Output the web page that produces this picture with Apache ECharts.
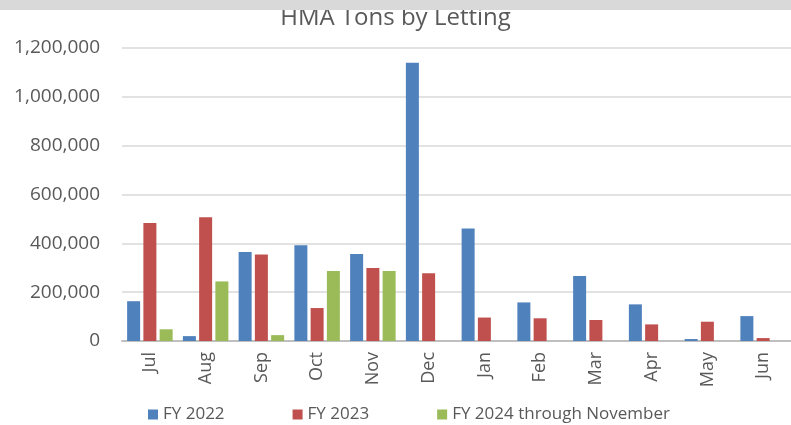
<!DOCTYPE html>
<html lang="en">
  <head>
    <meta charset="UTF-8" />
    <title>HMA Tons by Letting</title>
    <style>
      html, body { margin: 0; padding: 0; background: #fff; }
      #main { width: 791px; height: 425px; }
    </style>
  </head>
  <body>
    <div id="main"></div>
    <script src="https://cdn.jsdelivr.net/npm/echarts@6/dist/echarts.min.js"></script>
    <script>
      // months of the fiscal year (Jul - Jun)
      const months = ["Jul", "Aug", "Sep", "Oct", "Nov", "Dec", "Jan", "Feb", "Mar", "Apr", "May", "Jun"];
      const fy2022 = [163000, 20000, 364000, 392000, 356000, 1140000, 461000, 158000, 266000, 150000, 8000, 102000];
      const fy2023 = [483000, 507000, 354000, 135000, 299000, 277000, 96000, 93000, 86000, 68000, 79000, 12000];
      const fy2024 = [48000, 244000, 24000, 287000, 287000, null, null, null, null, null, null, null];
      const seriesNames = ["FY 2022", "FY 2023", "FY 2024 through November"];
      const colors = ["#4f81bd", "#c0504d", "#9bbb59"];
      const yTicks = [0, 200000, 400000, 600000, 800000, 1000000, 1200000];

      const font = "Open Sans";
      const chart = echarts.init(document.getElementById("main"));

      const option = {
        animation: false,
        color: colors,
        title: {
          text: "HMA Tons by Letting",
          left: "center",
          top: 1,
          textStyle: { fontFamily: font, fontSize: 24, fontWeight: "normal", color: "#595959" },
        },
        graphic: [
          {
            type: "rect",
            z: 100,
            shape: { x: 0, y: 0, width: 791, height: 10 },
            style: { fill: "#d9d9d9" },
          },
        ],
        grid: { left: 122, width: 677, top: 48, bottom: 84, containLabel: false },
        legend: {
          left: 143,
          top: 401,
          itemWidth: 10,
          itemHeight: 10,
          itemGap: 68,
          icon: "rect",
          textStyle: { fontFamily: font, fontSize: 17, color: "#595959" },
          data: seriesNames,
        },
        xAxis: {
          type: "category",
          data: months,
          axisLine: { lineStyle: { color: "#bfbfbf", width: 2 } },
          axisTick: { show: false },
          axisLabel: { rotate: 90, margin: 11, fontFamily: font, fontSize: 18, color: "#595959" },
        },
        yAxis: {
          type: "value",
          min: yTicks[0],
          max: yTicks[yTicks.length - 1],
          interval: yTicks[1] - yTicks[0],
          axisLine: { show: false },
          axisTick: { show: false },
          splitLine: { lineStyle: { color: "#d9d9d9", width: 1.5 } },
          axisLabel: {
            margin: 22,
            fontFamily: font,
            fontSize: 19,
            color: "#595959",
            formatter: (v) => v.toLocaleString("en-US"),
          },
        },
        series: [fy2022, fy2023, fy2024].map((d, i) => ({
          name: seriesNames[i],
          type: "bar",
          data: d,
          barWidth: 13,
          barGap: "25%",
          itemStyle: { color: colors[i] },
        })),
      };

      chart.setOption(option);
    </script>
  </body>
</html>
